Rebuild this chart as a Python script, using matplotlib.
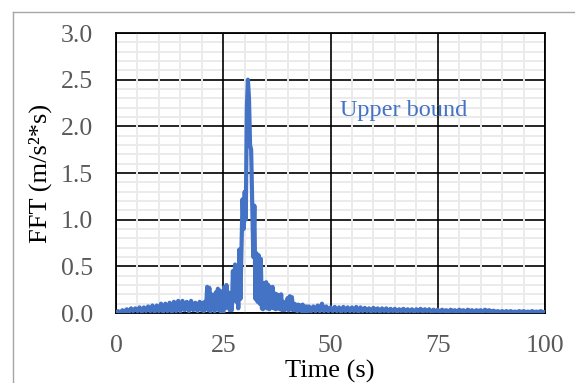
import numpy as np
import matplotlib
matplotlib.use("Agg")
import matplotlib.pyplot as plt
from matplotlib.ticker import MultipleLocator, FormatStrFormatter
from matplotlib.lines import Line2D

# ---- data ----
t_seg1 = np.arange(0, 20, 0.5)
v_seg1 = [0.01, 0.02, 0.00, 0.03, 0.01, 0.04, 0.01, 0.05, 0.02, 0.05,
          0.02, 0.06, 0.01, 0.06, 0.02, 0.07, 0.02, 0.08, 0.01, 0.08,
          0.02, 0.10, 0.01, 0.10, 0.02, 0.11, 0.01, 0.12, 0.02, 0.13,
          0.02, 0.13, 0.03, 0.12, 0.02, 0.13, 0.03, 0.11, 0.02, 0.12]

t_seg2 = np.arange(20, 45, 0.25)
v_seg2 = [0.03, 0.11, 0.02, 0.12, 0.05, 0.28, 0.03, 0.27, 0.02, 0.20,
          0.05, 0.19, 0.02, 0.22, 0.06, 0.26, 0.03, 0.24, 0.01, 0.05,
          0.00, 0.28, 0.05, 0.30, 0.08, 0.22, 0.03, 0.10, 0.03, 0.45,
          0.15, 0.52, 0.12, 0.50, 0.05, 0.68, 0.15, 0.70, 1.22, 0.90,
          1.30, 1.00, 2.20, 2.50, 2.30, 1.80, 1.75, 1.15, 0.60, 1.15,
          0.15, 0.64, 0.12, 0.62, 0.10, 0.58, 0.05, 0.04, 0.32, 0.06,
          0.33, 0.05, 0.30, 0.04, 0.27, 0.06, 0.28, 0.05, 0.21, 0.04,
          0.20, 0.05, 0.19, 0.04, 0.20, 0.03, 0.12, 0.03, 0.11, 0.04,
          0.16, 0.03, 0.18, 0.04, 0.17, 0.03, 0.10, 0.03, 0.09, 0.02,
          0.09, 0.03, 0.08, 0.02, 0.09, 0.02, 0.07, 0.02, 0.07, 0.02]

t_seg3 = np.arange(45, 100.25, 0.5)
v_seg3 = [0.07, 0.02, 0.07, 0.02, 0.08, 0.02, 0.10, 0.02, 0.07, 0.02,
          0.06, 0.02, 0.065, 0.02, 0.06, 0.01, 0.065, 0.02, 0.06, 0.02,
          0.06, 0.02, 0.065, 0.01, 0.06, 0.02, 0.055, 0.02, 0.05, 0.01,
          0.055, 0.02, 0.05, 0.01, 0.05, 0.02, 0.05, 0.01, 0.045, 0.02,
          0.045, 0.01, 0.04, 0.02, 0.045, 0.01, 0.04, 0.02, 0.04, 0.01,
          0.04, 0.02, 0.045, 0.01, 0.04, 0.02, 0.04, 0.01, 0.035, 0.02,
          0.035, 0.01, 0.035, 0.02, 0.03, 0.01, 0.035, 0.02, 0.03, 0.01,
          0.035, 0.02, 0.03, 0.01, 0.035, 0.02, 0.03, 0.01, 0.03, 0.02,
          0.03, 0.01, 0.035, 0.02, 0.03, 0.01, 0.025, 0.01, 0.02, 0.01,
          0.02, 0.01, 0.02, 0.01, 0.02, 0.01, 0.015, 0.01, 0.02, 0.01,
          0.02, 0.01, 0.015, 0.01, 0.02, 0.01, 0.015, 0.01, 0.02, 0.01, 0.01]

time = np.concatenate([t_seg1, t_seg2, t_seg3])
fft_vals = np.array(v_seg1 + v_seg2 + v_seg3)

x_ticks = [0, 25, 50, 75, 100]
y_ticks = [0.0, 0.5, 1.0, 1.5, 2.0, 2.5, 3.0]
annotation = "Upper bound"

# ---- figure ----
plt.rcParams['font.family'] = ['Liberation Serif', 'DejaVu Serif']
fig = plt.figure(figsize=(5.75, 3.83), dpi=100)
ax = fig.add_axes([116/575, 1-313/383, (545-116)/575, (313-33)/383])

blue = '#4472C4'
ax.plot(time, fft_vals, color=blue, lw=3.0, zorder=3, solid_joinstyle='round')

ax.set_xlim(0, 100)
ax.set_ylim(0, 3.0)
ax.set_xticks(x_ticks)
ax.set_yticks(y_ticks)
ax.yaxis.set_major_formatter(FormatStrFormatter('%.1f'))
ax.xaxis.set_minor_locator(MultipleLocator(5))
ax.yaxis.set_minor_locator(MultipleLocator(0.1))

ax.set_axisbelow(True)
ax.grid(which='minor', color='#EBEBEB', lw=1.4)
ax.grid(which='major', color='black', lw=1.2)
ax.yaxis.set_zorder(0.6)
ax.xaxis.set_zorder(0.7)

ax.tick_params(which='both', length=0)
ax.tick_params(axis='x', pad=16, labelsize=18.5, labelcolor='#595959')
ax.tick_params(axis='y', pad=16.5, labelsize=18.5, labelcolor='#595959')
for s in ax.spines.values():
    s.set_color('black')
    s.set_linewidth(1.3)

fig.text(330/575, 1-371/383, 'Time (s)', ha='center', va='center', fontsize=19)
fig.text(40/575, 1-173/383, 'FFT (m/s²*s)', ha='center', va='center',
         rotation=90, fontsize=19)

ax.text(52.2, 2.17, annotation, color=blue, fontsize=17.5, ha='left', va='center')

# outer chart border (cropped)
fx = 13/575
fy = 1-12/383
fig.add_artist(Line2D([fx, fx], [0, fy], transform=fig.transFigure, color='#A6A6A6', lw=1.0))
fig.add_artist(Line2D([fx, 1.0], [fy, fy], transform=fig.transFigure, color='#A6A6A6', lw=1.0))

fig.savefig('out.png', dpi=100)
